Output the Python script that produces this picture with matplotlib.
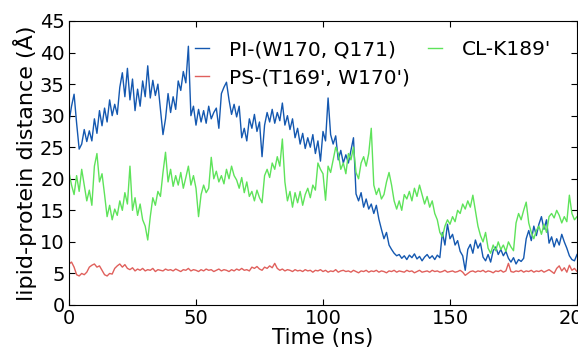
import numpy as np
import matplotlib
matplotlib.use("Agg")
import matplotlib.pyplot as plt

time_ns = list(range(0, 201))

pi_w170_q171 = [
    29.0, 31.5, 33.4, 28.8, 24.7, 25.5, 27.8, 25.9, 27.6, 26.0,
    29.5, 27.2, 30.8, 28.4, 31.2, 29.0, 32.5, 30.0, 31.8, 30.2,
    34.5, 36.8, 33.0, 37.5, 32.5, 35.8, 30.8, 34.2, 31.5, 35.5,
    33.0, 37.9, 32.8, 35.6, 33.2, 35.0, 31.0, 27.0, 29.5, 33.5,
    30.5, 33.0, 31.0, 35.5, 34.0, 37.0, 35.2, 41.0, 30.0, 31.5,
    28.5, 31.0, 29.0, 30.8, 28.8, 31.5, 29.5, 30.5, 31.2, 28.0,
    33.5, 34.5, 35.3, 32.5, 30.2, 31.8, 29.8, 31.5, 26.5, 28.0,
    26.0, 29.5, 28.0, 30.2, 27.5, 29.0, 23.5, 28.5, 30.5, 29.0,
    31.0, 28.8, 30.5, 29.2, 32.0, 28.5, 30.0, 27.8, 29.5, 26.5,
    28.0, 25.5, 27.2, 24.8, 26.5, 25.0, 27.0, 24.0, 26.0, 22.8,
    27.5, 26.0, 32.8, 27.0, 25.5, 26.8, 23.0, 24.5, 22.5, 23.8,
    22.5, 24.5, 26.5, 17.6, 16.5, 17.8, 15.5, 16.8, 15.2, 16.0,
    14.5, 15.8, 13.6, 12.0, 10.5, 11.5, 9.5, 8.8, 8.2, 7.8,
    8.0, 7.4, 7.8, 7.2, 7.9, 7.5, 8.1, 7.3, 7.7, 7.0,
    7.6, 8.0, 7.4, 7.8, 7.2, 7.9, 7.5, 11.5, 9.5, 12.8,
    10.5, 11.2, 9.5, 10.2, 8.5, 7.8, 5.5, 8.8, 9.6, 8.2,
    10.3, 9.0, 9.8, 7.6, 7.0, 8.0, 6.8, 8.6, 9.2, 8.0,
    8.8, 7.8, 8.5, 7.4, 6.8, 7.5, 6.5, 7.2, 6.9, 7.4,
    10.5, 11.8, 10.2, 12.5, 11.0, 12.8, 14.0, 12.0, 13.5, 9.8,
    10.8, 9.2, 10.5, 9.5, 11.2, 10.0, 9.0, 7.8, 7.2, 7.0, 8.0,
]

ps_t169_w170 = [
    6.5, 6.8, 6.0, 4.8, 4.6, 5.0, 4.8, 5.2, 6.0, 6.3,
    6.5, 6.0, 6.2, 5.5, 4.8, 4.6, 5.0, 4.9, 5.8, 6.2,
    6.5, 6.0, 6.4, 5.8, 5.6, 5.9, 5.4, 5.7, 5.5, 5.8,
    5.4, 5.6, 5.5, 5.8, 5.3, 5.6, 5.5, 5.4, 5.7, 5.5,
    5.6, 5.4, 5.7, 5.5, 5.3, 5.6, 5.5, 5.8, 5.4, 5.6,
    5.5, 5.3, 5.6, 5.4, 5.7, 5.5, 5.6, 5.3, 5.5, 5.7,
    5.4, 5.6, 5.5, 5.3, 5.6, 5.4, 5.7, 5.5, 5.8, 5.5,
    5.6, 5.4, 6.0, 5.8, 6.1, 5.7, 5.5, 6.0, 5.8, 6.2,
    5.9, 6.6, 5.8, 5.5, 5.7, 5.4, 5.6, 5.5, 5.3, 5.6,
    5.4, 5.5, 5.3, 5.6, 5.4, 5.5, 5.2, 5.5, 5.4, 5.6,
    5.3, 5.5, 5.2, 5.4, 5.3, 5.6, 5.2, 5.4, 5.5, 5.3,
    5.4, 5.2, 5.5, 5.3, 5.1, 5.4, 5.3, 5.5, 5.2, 5.4,
    5.3, 5.5, 5.2, 5.4, 5.3, 5.1, 5.4, 5.3, 5.5, 5.2,
    5.4, 5.3, 5.2, 5.5, 5.3, 5.4, 5.1, 5.3, 5.5, 5.2,
    5.3, 5.4, 5.2, 5.5, 5.3, 5.4, 5.2, 5.3, 5.5, 5.2,
    5.3, 5.4, 5.2, 5.3, 5.5, 5.2, 4.7, 5.0, 5.3, 5.4,
    5.2, 5.4, 5.3, 5.5, 5.2, 5.4, 5.3, 5.1, 5.4, 5.3,
    5.5, 5.2, 5.4, 6.6, 5.3, 5.2, 5.4, 5.3, 5.5, 5.2,
    5.4, 5.3, 5.5, 5.2, 5.4, 5.3, 5.5, 5.2, 5.4, 5.6,
    5.3, 5.0, 5.8, 6.2, 5.4, 5.9, 5.2, 6.3, 5.5, 5.8, 5.3,
]

cl_k189 = [
    21.0, 19.0, 17.5, 20.5, 18.0, 21.5, 19.0, 16.5, 18.2, 15.8,
    22.0, 24.0, 19.5, 20.8, 17.5, 14.0, 15.8, 13.5, 15.2, 14.2,
    16.5, 15.0, 17.8, 16.0, 22.0, 15.0, 17.0, 14.2, 16.0, 13.5,
    12.5, 10.3, 14.0, 17.0, 15.8, 18.0, 17.2, 21.0, 24.2, 19.5,
    21.5, 18.8, 20.5, 19.0, 21.0, 18.5, 20.2, 22.0, 19.0, 20.5,
    18.5, 14.0, 17.5, 19.0, 17.8, 18.5, 23.4, 20.0, 21.2, 19.5,
    20.5, 19.2, 21.5, 20.0, 22.0, 20.5, 19.8, 18.5, 20.2, 17.8,
    19.5, 17.2, 18.0, 16.5, 18.2, 17.0, 16.2, 20.5, 21.5, 20.2,
    22.5, 21.5, 23.5, 22.0, 26.3, 19.5, 16.5, 18.0, 15.5, 17.8,
    16.2, 18.0, 15.8, 17.5, 18.5, 17.0, 19.0, 18.2, 22.5, 21.5,
    20.8, 16.6, 22.0, 21.0, 23.0, 25.0, 24.0, 21.5, 22.5, 20.8,
    24.0, 23.0, 25.0, 21.0, 20.0, 22.5, 23.5, 22.0, 24.0, 28.0,
    19.0, 17.5, 18.5, 16.8, 17.5, 19.5, 21.0, 19.0, 16.5, 15.2,
    16.5, 15.0, 17.5, 16.8, 18.0, 16.5, 18.5, 17.2, 19.0, 17.5,
    16.0, 17.2, 15.5, 16.5, 14.5, 13.5, 11.5, 10.8, 12.5, 13.5,
    12.8, 14.0, 13.2, 15.0, 14.5, 16.0, 15.2, 16.5, 15.5, 17.4,
    15.0, 12.5, 11.0, 10.0, 11.5, 9.0, 8.2, 9.5, 8.6, 10.0,
    8.8, 9.5, 8.5, 10.0, 9.2, 8.6, 13.0, 14.5, 13.5, 15.0,
    16.3, 13.0, 11.5, 10.5, 11.8, 12.5, 11.2, 12.8, 11.5, 14.0,
    14.5, 13.8, 15.0, 14.2, 13.0, 14.0, 13.2, 17.4, 14.5, 13.5, 14.0,
]

series_labels = ["PI-(W170, Q171)", "PS-(T169', W170')", "CL-K189'"]
x_ticks = [0, 50, 100, 150, 200]
y_ticks = [0, 5, 10, 15, 20, 25, 30, 35, 40, 45]

fig = plt.figure(figsize=(5.78, 3.54), dpi=100)
ax = fig.add_axes([69/578, 1 - 305/354, (577 - 69)/578, (305 - 21)/354])

ax.plot(time_ns, pi_w170_q171, color="#1458b0", lw=1.0, label=series_labels[0])
ax.plot(time_ns, ps_t169_w170, color="#e0605c", lw=1.0, label=series_labels[1])
ax.plot(time_ns, cl_k189, color="#5ee35a", lw=1.0, label=series_labels[2])

ax.set_xlim(0, 200)
ax.set_ylim(0, 45)
ax.set_xticks(x_ticks)
ax.set_yticks(y_ticks)
ax.tick_params(direction="in", top=True, right=True, length=4, labelsize=14, pad=3)
ax.set_xlabel("Time (ns)", fontsize=15.5, labelpad=0)
ax.set_ylabel("lipid-protein distance (Å)", fontsize=16, labelpad=2)

leg = ax.legend(ncol=2, loc="upper left", bbox_to_anchor=(195/578, 1 - 40/354),
                bbox_transform=fig.transFigure, frameon=False, fontsize=14.5,
                handlelength=0.7, handletextpad=1.0, columnspacing=0.87,
                labelspacing=0.45, borderpad=0, borderaxespad=0)

fig.savefig("out.png", dpi=100)
